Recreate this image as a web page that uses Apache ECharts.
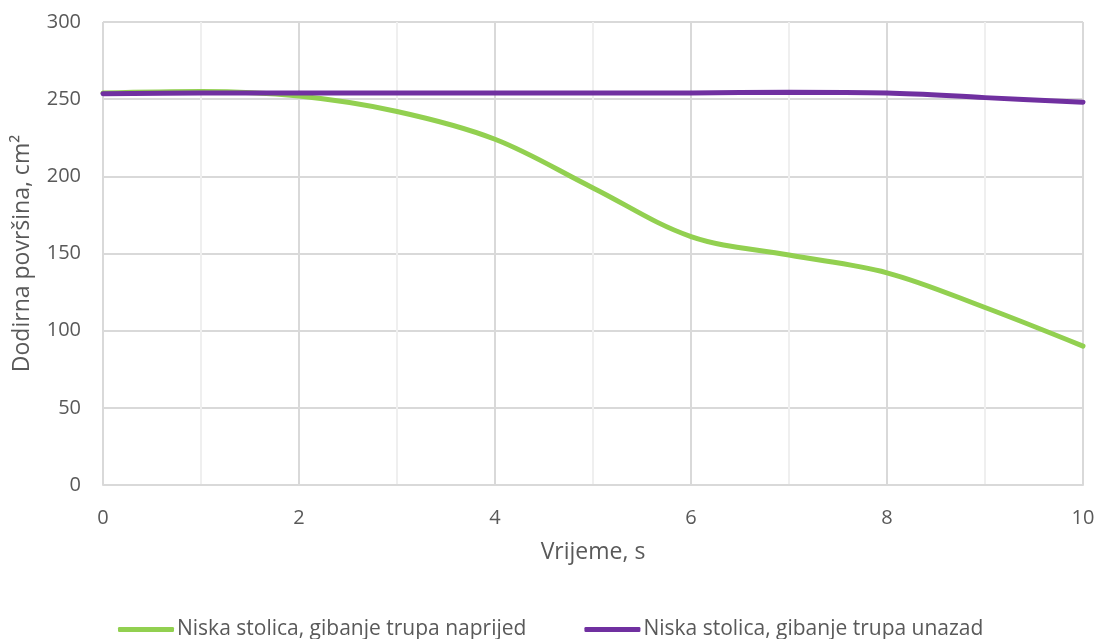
<!DOCTYPE html>
<html><head><meta charset="utf-8">
<script src="https://cdn.jsdelivr.net/npm/echarts@6/dist/echarts.min.js"></script>
<style>html,body{margin:0;padding:0;background:#fff}#c{width:1098px;height:639px}</style>
</head><body><div id="c"></div>
<script>
const times = [0,1,2,3,4,5,6,7,8,9,10];
const seriesNames = ['Niska stolica, gibanje trupa naprijed','Niska stolica, gibanje trupa unazad'];
const forwardValues = [254,255,252,242,224,192.5,161,149,137.5,115,90];
const backwardValues = [253.5,254,254,254,254,254,254,254.5,254,251,248];
const yTicks = [0,50,100,150,200,250,300];

const font = '"Open Sans", sans-serif';
const chart = echarts.init(document.getElementById('c'));
chart.setOption({
  animation:false,
  grid:{left:103,right:15,top:22,bottom:154,containLabel:false},
  xAxis:{type:'value',min:0,max:10,interval:2,
    name:'Vrijeme, s',nameLocation:'middle',nameGap:56,
    nameTextStyle:{fontSize:23,color:'#595959',fontFamily:font},
    axisLine:{show:true,lineStyle:{color:'#d9d9d9',width:2}},
    axisTick:{show:false},
    axisLabel:{fontSize:20,color:'#595959',fontFamily:font,margin:23},
    splitLine:{show:true,lineStyle:{color:'#d9d9d9',width:2}},
    minorTick:{show:false,splitNumber:2},
    minorSplitLine:{show:true,lineStyle:{color:'#efefef',width:2}}
  },
  yAxis:{type:'value',min:yTicks[0],max:yTicks[yTicks.length-1],interval:50,
    name:'Dodirna površina, cm²',nameLocation:'middle',nameGap:69,
    nameTextStyle:{fontSize:23,color:'#595959',fontFamily:font},
    axisLine:{show:false},axisTick:{show:false},
    axisLabel:{fontSize:20,color:'#595959',fontFamily:font,margin:22},
    splitLine:{show:true,lineStyle:{color:'#d9d9d9',width:2}}
  },
  legend:{top:614,left:113,itemWidth:56,itemHeight:5,itemGap:58,
    icon:'roundRect',
    textStyle:{fontSize:21,color:'#595959',fontFamily:font,padding:[0,0,0,-2]},
    data:seriesNames},
  series:[
    {name:seriesNames[0],type:'line',smooth:0.35,showSymbol:false,
      data:times.map((t,i)=>[t,forwardValues[i]]),
      lineStyle:{color:'#92d050',width:5,cap:'round'},itemStyle:{color:'#92d050'}},
    {name:seriesNames[1],type:'line',smooth:0.35,showSymbol:false,
      data:times.map((t,i)=>[t,backwardValues[i]]),
      lineStyle:{color:'#7030a0',width:5,cap:'round'},itemStyle:{color:'#7030a0'}}
  ]
});
</script></body></html>
